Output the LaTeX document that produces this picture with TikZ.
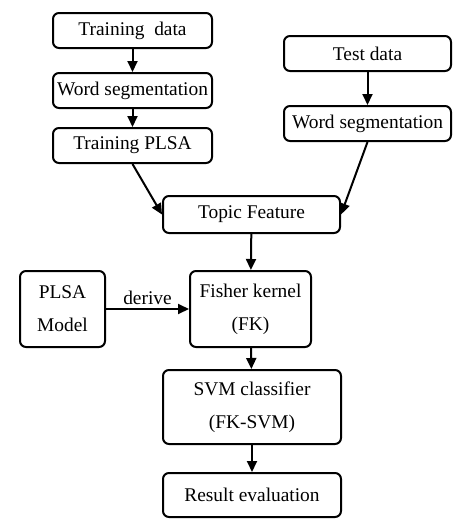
\documentclass[tikz,border=0pt]{standalone}
\usepackage{fontspec}
\setmainfont{Liberation Serif}
\usetikzlibrary{arrows.meta}
\begin{document}
\begin{tikzpicture}[x=1pt, y=-1pt, line width=2pt,
    every node/.style={font=\fontsize{19.4}{33}\selectfont},
    procbox/.style={draw, rounded corners=6pt, inner sep=0pt, align=center},
    flow/.style={-{Triangle[length=11pt,width=10pt]}}]
            \useasboundingbox (0,0) rectangle (474,530);

            % Draw the boxes of the training branch
            \node[procbox, minimum width=159pt, minimum height=35pt] (traindata) at (132.5, 30.5) {Training\ \ data};
            \node[procbox, minimum width=159pt, minimum height=35pt] (wsegleft) at (132.5, 90.5) {Word segmentation};
            \node[procbox, minimum width=159pt, minimum height=35pt] (trainplsa) at (132.5, 145.5) {Training PLSA};

            % Draw the boxes of the test branch
            \node[procbox, minimum width=167pt, minimum height=35pt] (testdata) at (367.5, 53.5) {Test data};
            \node[procbox, minimum width=167pt, minimum height=35pt] (wsegright) at (367.5, 123.5) {Word segmentation};

            % Draw the boxes of the lower part
            \node[procbox, minimum width=177pt, minimum height=37pt] (topic) at (251.5, 214.5) {Topic Feature};
            \node[procbox, minimum width=85pt, minimum height=76pt] (plsamodel) at (62.5, 309) {PLSA\\Model};
            \node[procbox, minimum width=121pt, minimum height=76pt] (fisher) at (250.5, 309) {Fisher kernel\\(FK)};
            \node[procbox, minimum width=178pt, minimum height=74pt] (svm) at (252, 407) {SVM classifier\\(FK-SVM)};
            \node[procbox, minimum width=178pt, minimum height=44pt] (result) at (252, 495) {Result evaluation};

            % Draw the arrows
            \draw[flow] (traindata) -- (wsegleft);
            \draw[flow] (wsegleft) -- (trainplsa);
            \draw[flow] (testdata) -- (wsegright);
            \draw[flow] (trainplsa.south) -- (topic.west);
            \draw[flow] (wsegright.south) -- (topic.east);
            \draw[flow] (topic) -- (fisher);
            \draw[flow] (plsamodel) -- (fisher) node[midway, above] {derive};
            \draw[flow] (fisher) -- (svm);
            \draw[flow] (svm) -- (result);

        \end{tikzpicture}
\end{document}
